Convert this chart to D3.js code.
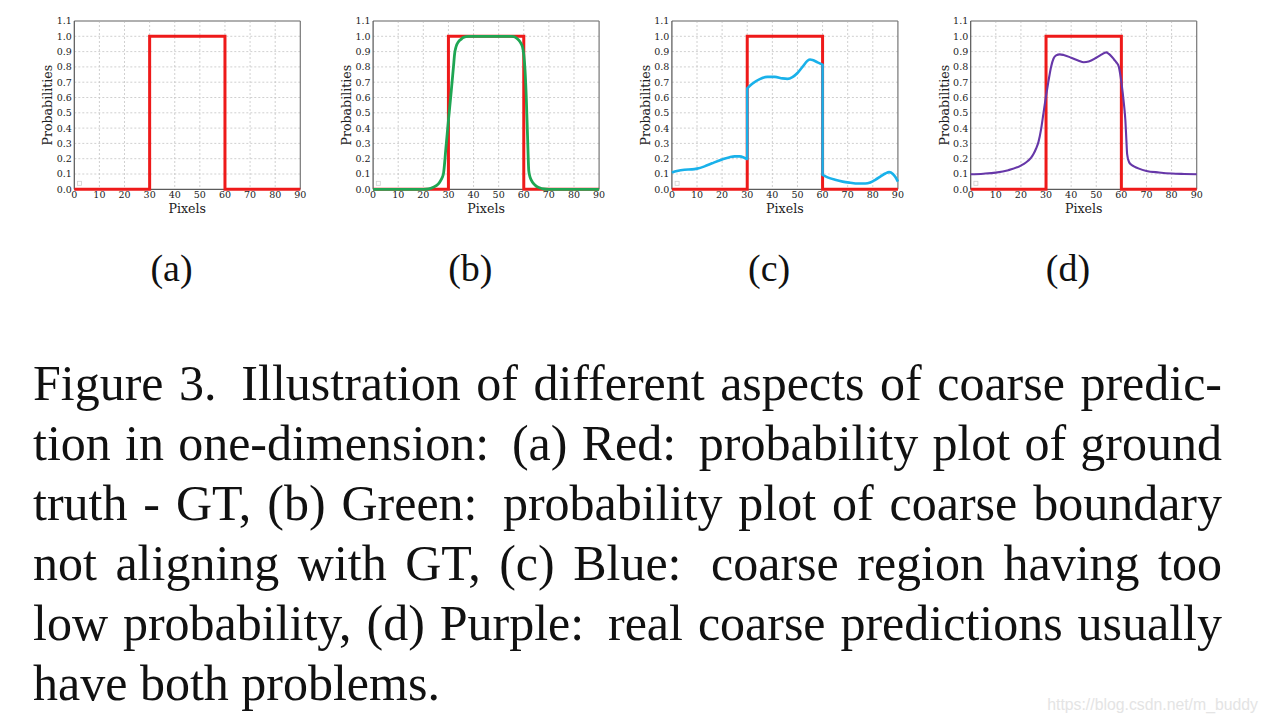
<!DOCTYPE html>
<html>
<head>
<meta charset="utf-8">
<script src="https://cdn.jsdelivr.net/npm/d3@7"></script>
<style>
  html, body { margin: 0; padding: 0; background: #fff; }
  svg { display: block; }
</style>
</head>
<body>
<svg id="chart" width="1268" height="724"></svg>
<script>
// ---------------- data ----------------
const xTicks = [0, 10, 20, 30, 40, 50, 60, 70, 80, 90];
const yTicks = [0, 0.1, 0.2, 0.3, 0.4, 0.5, 0.6, 0.7, 0.8, 0.9, 1.0, 1.1];
const panelLabels = ["(a)", "(b)", "(c)", "(d)"];
const xLabel = "Pixels";
const yLabel = "Probabilities";

// ground truth (red)
const gtX = [0, 30, 30, 60, 60, 90];
const gtY = [0, 0, 1, 1, 0, 0];

// (b) green
const greenX = [0, 20, 22, 24, 26, 27, 28, 29, 30, 31, 32, 32.5, 33, 34, 35, 36, 38, 40, 45, 50, 55, 56, 57, 58, 59, 59.5, 60, 60.5, 61, 61.5, 62, 62.5, 63, 64, 65, 66, 68, 70, 90];
const greenY = [0, 0, 0.002, 0.013, 0.035, 0.06, 0.10, 0.27, 0.45, 0.62, 0.80, 0.89, 0.93, 0.965, 0.98, 0.993, 0.999, 1.0, 1.0, 1.0, 1.0, 0.998, 0.99, 0.975, 0.95, 0.93, 0.88, 0.78, 0.60, 0.35, 0.12, 0.08, 0.06, 0.035, 0.02, 0.012, 0.002, 0, 0];

// (c) blue, three pieces joined by vertical jumps
const blueX1 = [0, 2, 5, 8, 10, 13, 16, 20, 23, 25, 27, 29, 30];
const blueY1 = [0.11, 0.12, 0.128, 0.13, 0.135, 0.15, 0.17, 0.195, 0.21, 0.215, 0.215, 0.205, 0.198];
const blueX2 = [30, 32, 35, 38, 41, 44, 46, 48, 50, 52, 54, 55, 56, 58, 60];
const blueY2 = [0.66, 0.69, 0.72, 0.735, 0.735, 0.725, 0.722, 0.733, 0.76, 0.80, 0.84, 0.848, 0.845, 0.83, 0.815];
const blueX3 = [60, 62, 65, 68, 71, 74, 77, 79, 81, 83, 85, 86.5, 88, 89, 90];
const blueY3 = [0.094, 0.078, 0.062, 0.05, 0.043, 0.038, 0.038, 0.045, 0.062, 0.083, 0.103, 0.112, 0.10, 0.08, 0.05];

// (d) purple
const purpleX = [0, 5, 10, 15, 20, 22, 24, 25, 26, 27, 28, 29, 30, 31, 32, 33, 34, 35.5, 37, 40, 43, 45, 47, 50, 52, 54, 55, 56, 57, 58, 59, 60, 61, 61.6, 62, 62.3, 63, 64, 65, 67, 70, 75, 80, 85, 90];
const purpleY = [0.098, 0.102, 0.109, 0.125, 0.155, 0.175, 0.205, 0.23, 0.265, 0.31, 0.39, 0.50, 0.61, 0.71, 0.80, 0.855, 0.875, 0.882, 0.878, 0.86, 0.84, 0.83, 0.835, 0.86, 0.88, 0.895, 0.885, 0.87, 0.85, 0.83, 0.80, 0.70, 0.56, 0.45, 0.32, 0.23, 0.18, 0.16, 0.15, 0.135, 0.12, 0.11, 0.103, 0.10, 0.098];

const captionLines = [
  "Figure 3. Illustration of different aspects of coarse predic-",
  "tion in one-dimension: (a) Red: probability plot of ground",
  "truth - GT, (b) Green: probability plot of coarse boundary",
  "not aligning with GT, (c) Blue: coarse region having too",
  "low probability, (d) Purple: real coarse predictions usually",
  "have both problems."
];
const watermark = "https://blog.csdn.net/m_buddy";

// ---------------- styles ----------------
const RED = "#ee1a1a", GREEN = "#1ea653", BLUE = "#19b1ea", PURPLE = "#6637a8";
const panelLeft0 = 74.3, panelStep = 298.8, pw = 226, plotTop = 21, plotBottom = 189.3;
const serifSmall = "'DejaVu Serif', serif";
const times = "'Liberation Serif', 'Times New Roman', serif";

const svg = d3.select("#chart");
const H = plotBottom - plotTop;
const x = d3.scaleLinear().domain([0, 90]).range([0, pw]);
const y = d3.scaleLinear().domain([0, 1.1]).range([H, 0]);

const monoLine = d3.line().x(d => x(d[0])).y(d => y(d[1])).curve(d3.curveMonotoneX);
const linLine = d3.line().x(d => x(d[0])).y(d => y(d[1]));
const zip = (a, b) => a.map((v, i) => [v, b[i]]);

function joinedPath(pieces) {
  return pieces.map((p, i) => {
    const s = monoLine(p);
    return i === 0 ? s : "L" + s.slice(1);
  }).join("");
}

const curves = [
  null,
  { d: monoLine(zip(greenX, greenY)), color: GREEN, w: 2.8 },
  { d: joinedPath([zip(blueX1, blueY1), zip(blueX2, blueY2), zip(blueX3, blueY3)]), color: BLUE, w: 2.6 },
  { d: monoLine(zip(purpleX, purpleY)), color: PURPLE, w: 2.1 }
];

for (let i = 0; i < 4; i++) {
  const g = svg.append("g").attr("transform", `translate(${panelLeft0 + i * panelStep},${plotTop})`);

  // grid
  g.append("g").selectAll("line").data(xTicks.slice(1, -1)).join("line")
    .attr("x1", d => x(d)).attr("x2", d => x(d)).attr("y1", 0).attr("y2", H)
    .attr("stroke", "#c4c4c4").attr("stroke-width", 0.8).attr("stroke-dasharray", "2,2");
  g.append("g").selectAll("line").data(yTicks.slice(1, -1)).join("line")
    .attr("x1", 0).attr("x2", pw).attr("y1", d => y(d)).attr("y2", d => y(d))
    .attr("stroke", "#c4c4c4").attr("stroke-width", 0.8).attr("stroke-dasharray", "2,2");

  // spines
  g.append("line").attr("x1", 0).attr("x2", pw).attr("y1", 0).attr("y2", 0).attr("stroke", "#b0b0b0").attr("stroke-width", 2);
  g.append("line").attr("x1", pw).attr("x2", pw).attr("y1", 0).attr("y2", H).attr("stroke", "#777").attr("stroke-width", 1.2);
  g.append("line").attr("x1", 0).attr("x2", 0).attr("y1", 0).attr("y2", H).attr("stroke", "#555").attr("stroke-width", 1.2);
  g.append("line").attr("x1", 0).attr("x2", pw).attr("y1", H).attr("y2", H).attr("stroke", "#333").attr("stroke-width", 1);

  // tick labels
  g.append("g").selectAll("text").data(xTicks).join("text")
    .attr("x", d => x(d)).attr("y", H + 9)
    .attr("text-anchor", "middle").attr("font-family", serifSmall).attr("font-size", 9.5).attr("fill", "#222")
    .text(d => d);
  g.append("g").selectAll("text").data(yTicks).join("text")
    .attr("x", -2.5).attr("y", d => y(d) + 3.4)
    .attr("text-anchor", "end").attr("font-family", serifSmall).attr("font-size", 9.5).attr("fill", "#222")
    .text(d => d.toFixed(1));

  // axis labels
  g.append("text").attr("x", pw / 2).attr("y", H + 23.4).attr("text-anchor", "middle")
    .attr("font-family", serifSmall).attr("font-size", 12.6).attr("fill", "#222").text(xLabel);
  g.append("text").attr("transform", `translate(${-22},${H / 2}) rotate(-90)`).attr("text-anchor", "middle")
    .attr("font-family", serifSmall).attr("font-size", 12.6).attr("fill", "#222").text(yLabel);

  // empty legend box
  g.append("rect").attr("x", 3.2).attr("y", H - 8).attr("width", 4).attr("height", 4)
    .attr("fill", "none").attr("stroke", "#cfcfcf").attr("stroke-width", 0.8);

  // ground truth
  g.append("path").attr("d", linLine(zip(gtX, gtY))).attr("fill", "none")
    .attr("stroke", RED).attr("stroke-width", 3).attr("stroke-linejoin", "miter");

  if (curves[i]) {
    g.append("path").attr("d", curves[i].d).attr("fill", "none")
      .attr("stroke", curves[i].color).attr("stroke-width", curves[i].w).attr("stroke-linejoin", "round");
  }

  // panel label
  svg.append("text").attr("x", 171.5 + i * panelStep).attr("y", 281)
    .attr("text-anchor", "middle").attr("font-family", times).attr("font-size", 38).attr("fill", "#111")
    .text(panelLabels[i]);
}

// caption, justified
const capX0 = 33, capX1 = 1222, capBase = 400, capLead = 60;
const cap = svg.append("g").attr("font-family", times).attr("font-size", 50).attr("fill", "#111");
captionLines.forEach((line, li) => {
  const words = line.split(" ");
  const yy = capBase + li * capLead;
  const texts = words.map(w => cap.append("text").attr("y", yy).text(w));
  const widths = texts.map(t => t.node().getComputedTextLength());
  const total = d3.sum(widths);
  const last = li === captionLines.length - 1;
  const weights = words.slice(0, -1).map(w => /[.:]$/.test(w) ? 1.6 : 1);
  const wsum = d3.sum(weights);
  const unit = last ? 12.5 : (capX1 - capX0 - total) / wsum;
  let xx = capX0;
  texts.forEach((t, i) => {
    t.attr("x", xx);
    xx += widths[i] + (i < weights.length ? weights[i] * unit : 0);
  });
});

// watermark
svg.append("text").attr("x", 1258).attr("y", 710).attr("text-anchor", "end")
  .attr("font-family", "'Liberation Sans', Arial, sans-serif").attr("font-size", 15.8)
  .attr("fill", "#e4e4e4").text(watermark);
</script>
</body>
</html>
